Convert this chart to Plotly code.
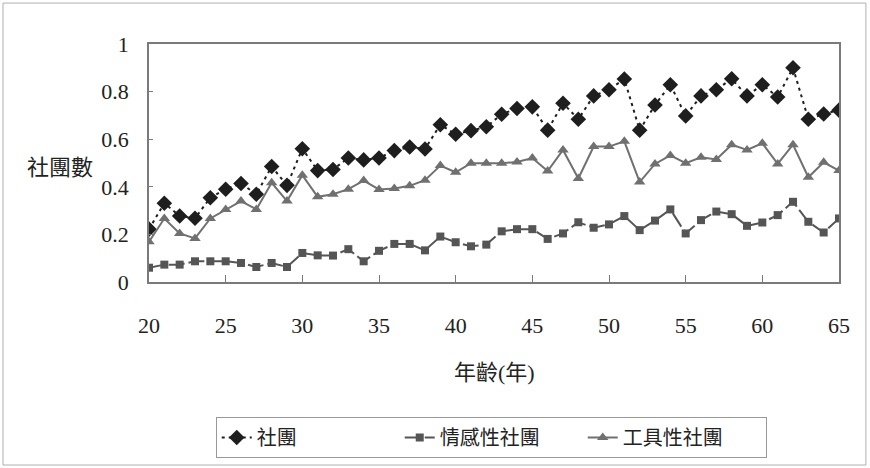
import plotly.graph_objects as go

ages = list(range(20, 66))

she_tuan = [0.222, 0.331, 0.277, 0.268, 0.354, 0.390, 0.414, 0.369, 0.485, 0.406,
            0.560, 0.468, 0.473, 0.521, 0.513, 0.521, 0.552, 0.567, 0.559, 0.661,
            0.621, 0.636, 0.652, 0.705, 0.729, 0.736, 0.638, 0.751, 0.684, 0.782,
            0.808, 0.853, 0.638, 0.744, 0.829, 0.698, 0.782, 0.808, 0.854, 0.782,
            0.829, 0.777, 0.900, 0.684, 0.706, 0.722]

qing_gan = [0.060, 0.073, 0.073, 0.087, 0.087, 0.087, 0.080, 0.063, 0.080, 0.063,
            0.122, 0.112, 0.111, 0.138, 0.087, 0.131, 0.160, 0.160, 0.133, 0.191,
            0.167, 0.150, 0.157, 0.213, 0.222, 0.222, 0.181, 0.204, 0.251, 0.228,
            0.242, 0.277, 0.218, 0.258, 0.305, 0.204, 0.260, 0.296, 0.285, 0.236,
            0.250, 0.281, 0.337, 0.253, 0.208, 0.267]

gong_ju = [0.169, 0.267, 0.204, 0.183, 0.267, 0.305, 0.340, 0.305, 0.417, 0.340,
           0.449, 0.358, 0.369, 0.390, 0.426, 0.389, 0.393, 0.404, 0.428, 0.489,
           0.461, 0.499, 0.499, 0.499, 0.504, 0.521, 0.466, 0.555, 0.435, 0.569,
           0.569, 0.591, 0.420, 0.496, 0.532, 0.499, 0.524, 0.515, 0.577, 0.555,
           0.583, 0.496, 0.577, 0.440, 0.503, 0.468]

names = ["社團", "情感性社團", "工具性社團"]
xticks = [20, 25, 30, 35, 40, 45, 50, 55, 60, 65]
yticks = [0, 0.2, 0.4, 0.6, 0.8, 1]
ytick_text = ["0", "0.2", "0.4", "0.6", "0.8", "1"]

FONT = "Liberation Serif, Noto Sans CJK TC, serif"

fig = go.Figure()
fig.add_trace(go.Scatter(
    x=ages, y=she_tuan, name=names[0], mode="lines+markers",
    line=dict(color="#1e1e1e", width=2, dash="3px,4px"),
    marker=dict(symbol="diamond", size=12, color="#1e1e1e"),
))
fig.add_trace(go.Scatter(
    x=ages, y=qing_gan, name=names[1], mode="lines+markers",
    line=dict(color="#555555", width=2, dash="16px,4px"),
    marker=dict(symbol="square", size=8, color="#555555"),
))
fig.add_trace(go.Scatter(
    x=ages, y=gong_ju, name=names[2], mode="lines+markers",
    line=dict(color="#707070", width=2),
    marker=dict(symbol="triangle-up", size=10, color="#707070"),
))

axis_common = dict(
    showline=True, linecolor="#7a7a7a", linewidth=1.5, mirror=True,
    showgrid=False, zeroline=False, ticks="inside", tickcolor="#7a7a7a",
    tickfont=dict(family=FONT, size=22, color="#222222"),
)

fig.update_xaxes(range=[20, 65], tickvals=xticks, ticklen=7,
                 ticklabelstandoff=23, **axis_common)
fig.update_yaxes(range=[0, 1], tickvals=yticks, ticktext=ytick_text, ticklen=4,
                 ticklabelstandoff=14, **axis_common)

fig.update_layout(
    width=870, height=468,
    margin=dict(l=149, r=31, t=44, b=186, autoexpand=False),
    paper_bgcolor="white", plot_bgcolor="white",
    font=dict(family=FONT, size=20, color="#222222"),
    showlegend=True,
    legend=dict(
        orientation="h", x=0.496, xanchor="center", y=-0.567, yanchor="top",
        bgcolor="white", bordercolor="#999999", borderwidth=1,
        font=dict(family=FONT, size=20, color="#222222"),
        entrywidth=138, entrywidthmode="pixels",
    ),
    annotations=[
        dict(text="社團數", xref="paper", yref="paper", x=-0.129, y=0.479,
             xanchor="center", yanchor="middle",
             showarrow=False, font=dict(family=FONT, size=22, color="#222222")),
        dict(text="年齡(年)", xref="paper", yref="paper", x=0.5014, y=-0.382,
             xanchor="center", yanchor="middle",
             showarrow=False, font=dict(family=FONT, size=22, color="#222222")),
    ],
    shapes=[
        dict(type="rect", xref="paper", yref="paper",
             x0=-0.2116, x1=1.039, y0=-0.769, y1=1.172,
             line=dict(color="#b0b0b0", width=1)),
    ],
)

fig.write_html("out.html", config={"displayModeBar": False},
               post_script="document.body.style.margin='0';")
